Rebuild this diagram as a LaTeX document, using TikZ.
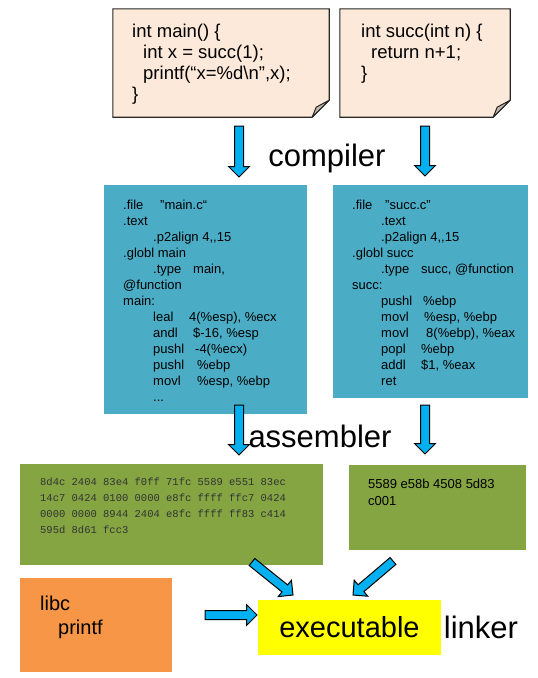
\documentclass[tikz,border=0pt]{standalone}
\usepackage{fontspec}
\setmainfont{Liberation Sans}
\setmonofont{Liberation Mono}
\usetikzlibrary{calc}
\definecolor{notefill}{HTML}{FDE9D9}
\definecolor{foldgray}{HTML}{C4B6AC}
\definecolor{asmblue}{HTML}{4BACC6}
\definecolor{objgreen}{HTML}{84A542}
\definecolor{liborange}{HTML}{F79646}
\definecolor{exeyellow}{HTML}{FFFF00}
\definecolor{arrowblue}{HTML}{00B0F0}
\definecolor{hexgray}{HTML}{333333}
\tikzset{
  boxshape/.style={rectangle, draw=none, inner sep=0pt},
  noteline/.style={draw=black!85, line width=1.1pt, fill=notefill},
  foldline/.style={draw=black!85, line width=1pt, fill=foldgray, line join=round},
  codetext/.style={inner sep=0pt, align=left, font=\fontsize{18.5}{21}\selectfont},
  asmtext/.style={inner sep=0pt, align=left, font=\fontsize{13}{16}\selectfont},
  hextext/.style={inner sep=0pt, align=left, text=hexgray, font=\ttfamily\fontsize{10.5}{16}\selectfont},
  objtext/.style={inner sep=0pt, align=left, font=\fontsize{13}{17}\selectfont},
  libtext/.style={inner sep=0pt, align=left, font=\fontsize{20}{24.5}\selectfont},
  biglabel/.style={inner sep=0pt, font=\fontsize{31}{37}\selectfont},
  barrow/.style={draw=black, fill=arrowblue, line width=1pt, line join=miter}
}
% block arrow from #1 to #2 (named coordinates)
\newcommand{\blockarrow}[2]{%
  \coordinate (hb) at ($(#2)!10.5pt!(#1)$);
  \draw[barrow] ($(#1)!4.5pt!90:(#2)$) -- ($(hb)!4.5pt!-90:(#1)$)
    -- ($(hb)!10.5pt!-90:(#1)$) -- (#2) -- ($(hb)!10.5pt!90:(#1)$)
    -- ($(hb)!4.5pt!90:(#1)$) -- ($(#1)!4.5pt!-90:(#2)$) -- cycle;
}
\begin{document}
\begin{tikzpicture}[x=1pt,y=-1pt]
\useasboundingbox (0,0) rectangle (538,678);
\fill[white] (0,0) rectangle (538,678);

% source notes
\node[boxshape, minimum width=216, minimum height=108] (mainc) at (221,63) {};
\draw[noteline] (mainc.north west) -- (mainc.north east) -- ([yshift=17pt]mainc.south east)
  -- ([xshift=-17pt]mainc.south east) -- (mainc.south west) -- cycle;
\draw[foldline] ([yshift=17pt]mainc.south east) -- ([xshift=-17pt]mainc.south east)
  -- ([xshift=-13pt,yshift=10pt]mainc.south east) -- cycle;
\node[codetext, anchor=north west] (maincode) at (132,23.5)
  {int main() \{\\ \hspace*{11pt}int x = succ(1);\\ \hspace*{11pt}printf(“x=\%d\textbackslash n”,x);\\ \}};

\node[boxshape, minimum width=170, minimum height=108] (succc) at (425,63) {};
\draw[noteline] (succc.north west) -- (succc.north east) -- ([yshift=17pt]succc.south east)
  -- ([xshift=-17pt]succc.south east) -- (succc.south west) -- cycle;
\draw[foldline] ([yshift=17pt]succc.south east) -- ([xshift=-17pt]succc.south east)
  -- ([xshift=-13pt,yshift=10pt]succc.south east) -- cycle;
\node[codetext, anchor=north west] (succcode) at (361,23.5)
  {int succ(int n) \{\\ \hspace*{10pt}return n+1;\\ \}};

% compiler arrows
\coordinate (ca1) at (239,126); \coordinate (cb1) at (239,177);
\coordinate (ca2) at (425,126); \coordinate (cb2) at (425,176);
\blockarrow{ca1}{cb1}
\blockarrow{ca2}{cb2}
\node[biglabel, anchor=base] (compiler) at (327,166) {compiler};

% assembly boxes
\node[boxshape, fill=asmblue, minimum width=203, minimum height=229] (mains) at (205.5,299.5) {};
\node[asmtext, anchor=north west] (mainasm) at (123,199.5)
  {\makebox[37pt][l]{.file}\char34 main.c“\\
   .text\\
   \hspace*{30pt}.p2align 4,{},15\\
   .globl main\\
   \hspace*{30pt}\makebox[40pt][l]{.type}main,\\
   @function\\
   main:\\
   \hspace*{30pt}\makebox[36pt][l]{leal}4(\%esp), \%ecx\\
   \hspace*{30pt}\makebox[40pt][l]{andl}\$-16, \%esp\\
   \hspace*{30pt}\makebox[42pt][l]{pushl}-4(\%ecx)\\
   \hspace*{30pt}\makebox[44pt][l]{pushl}\%ebp\\
   \hspace*{30pt}\makebox[44pt][l]{movl}\%esp, \%ebp\\
   \hspace*{30pt}...};

\node[boxshape, fill=asmblue, minimum width=195, minimum height=213] (succs) at (430.5,291.5) {};
\node[asmtext, anchor=north west] (succasm) at (352,199.5)
  {\makebox[33pt][l]{.file}\char34 succ.c\char34\\
   \hspace*{29pt}.text\\
   \hspace*{29pt}.p2align 4,{},15\\
   .globl succ\\
   \hspace*{29pt}\makebox[40pt][l]{.type}succ, @function\\
   succ:\\
   \hspace*{29pt}\makebox[42pt][l]{pushl}\%ebp\\
   \hspace*{29pt}\makebox[43pt][l]{movl}\%esp, \%ebp\\
   \hspace*{29pt}\makebox[45pt][l]{movl}8(\%ebp), \%eax\\
   \hspace*{29pt}\makebox[40pt][l]{popl}\%ebp\\
   \hspace*{29pt}\makebox[40pt][l]{addl}\$1, \%eax\\
   \hspace*{29pt}ret};

% assembler arrows
\coordinate (aa1) at (239,405); \coordinate (ab1) at (239,455);
\coordinate (aa2) at (425,405); \coordinate (ab2) at (425,454);
\blockarrow{aa1}{ab1}
\blockarrow{aa2}{ab2}
\node[biglabel, anchor=base] (assembler) at (320,447) {assembler};

% object files
\node[boxshape, fill=objgreen, minimum width=303, minimum height=101] (maino) at (171.5,514.5) {};
\node[hextext, anchor=north west] (mainhex) at (40,478)
  {8d4c 2404 83e4 f0ff 71fc 5589 e551 83ec\\
   14c7 0424 0100 0000 e8fc ffff ffc7 0424\\
   0000 0000 8944 2404 e8fc ffff ff83 c414\\
   595d 8d61 fcc3};

\node[boxshape, fill=objgreen, minimum width=177, minimum height=85] (succo) at (437.5,507.5) {};
\node[objtext, anchor=north west] (succhex) at (368,478.5)
  {5589 e58b 4508 5d83\\ c001};

% library
\node[boxshape, fill=liborange, minimum width=152, minimum height=94] (libc) at (96,625) {};
\node[libtext, anchor=north west] (libtxt) at (40,595.5)
  {libc\\ \hspace*{18pt}printf};

% executable
\node[boxshape, fill=exeyellow, minimum width=183, minimum height=55,
  font=\fontsize{29}{35}\selectfont] (exe) at (349.5,627.5) {executable};
\node[biglabel, anchor=base] (linker) at (481,638) {linker};

% linker arrows
\coordinate (la1) at (205,615); \coordinate (lb1) at (257,615);
\coordinate (la2) at (252,562); \coordinate (lb2) at (293,595);
\coordinate (la3) at (393,561); \coordinate (lb3) at (353,595);
\blockarrow{la1}{lb1}
\blockarrow{la2}{lb2}
\blockarrow{la3}{lb3}
\end{tikzpicture}
\end{document}
